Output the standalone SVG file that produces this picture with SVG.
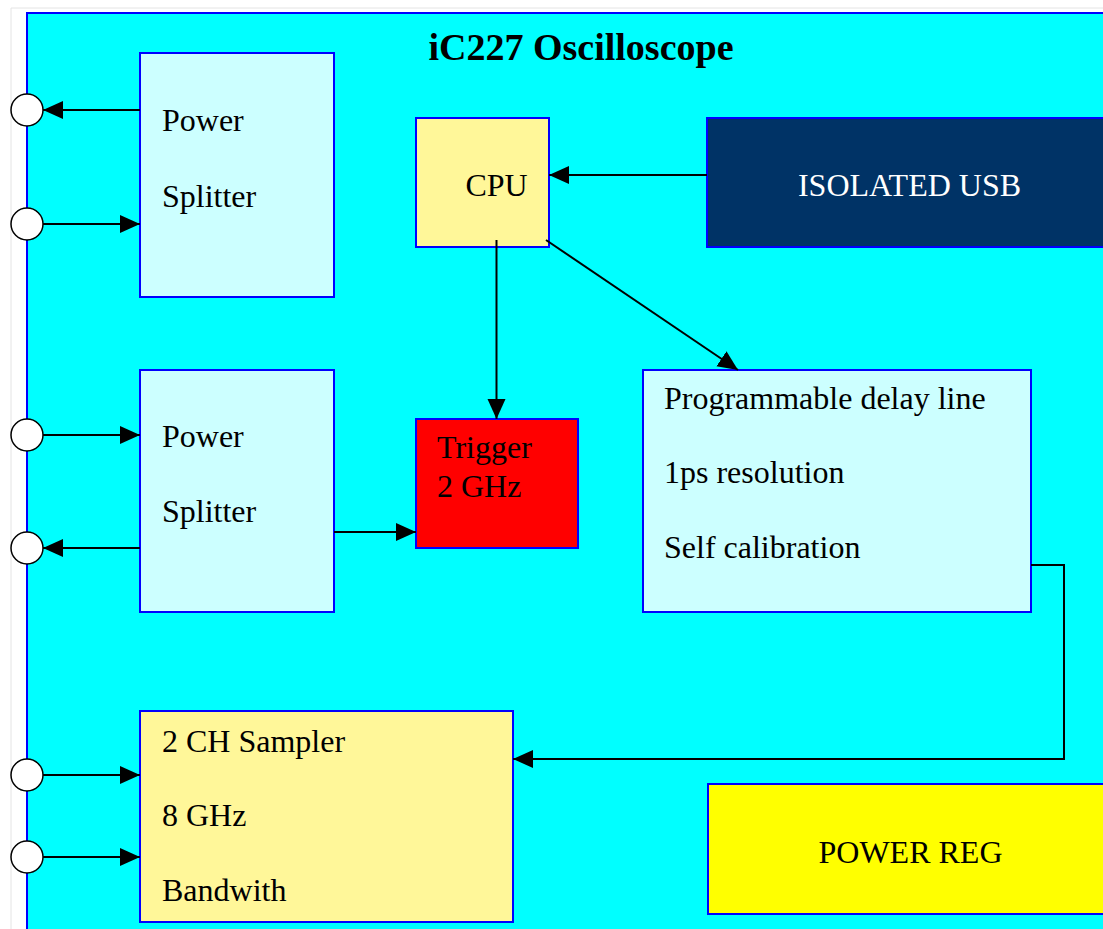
<svg xmlns="http://www.w3.org/2000/svg" width="1103" height="929" viewBox="0 0 1103 929">
<style>
.box{stroke:#0000ff;stroke-width:2}
.t{font-family:"Liberation Serif","Times New Roman",serif;font-size:32px;fill:#000}
.c{text-anchor:middle}
.ln{stroke:#000;stroke-width:2;fill:none}
.port{fill:#fff;stroke:#000;stroke-width:1.5}
</style>
<defs>
<marker id="ah" markerUnits="userSpaceOnUse" markerWidth="22" markerHeight="20" refX="20" refY="9" orient="auto">
<path d="M0,0 L20,9 L0,18 z" fill="#000"/>
</marker>
</defs>
<rect x="0" y="0" width="1103" height="929" fill="#fff"/>
<line x1="11" y1="8" x2="11" y2="929" stroke="#e4e4e4" stroke-width="1"/>
<line x1="11" y1="8" x2="1103" y2="8" stroke="#e4e4e4" stroke-width="1"/>
<g id="frame">
<rect x="27" y="13" width="1090" height="930" fill="#00ffff" class="box"/>
<text x="581" y="60" class="t c" style="font-weight:bold;font-size:38px" textLength="305" lengthAdjust="spacingAndGlyphs">iC227 Oscilloscope</text>
</g>
<g id="splitter1">
<rect x="140" y="53" width="194" height="244" fill="#ccffff" class="box"/>
<text x="162" y="131" class="t">Power</text>
<text x="162" y="207" class="t">Splitter</text>
</g>
<g id="splitter2">
<rect x="140" y="370" width="194" height="242" fill="#ccffff" class="box"/>
<text x="162" y="447" class="t">Power</text>
<text x="162" y="522" class="t">Splitter</text>
</g>
<g id="cpu">
<rect x="416" y="118" width="133" height="129" fill="#fff799" class="box"/>
<text x="496.5" y="196" class="t c">CPU</text>
</g>
<g id="usb">
<rect x="707" y="118" width="410" height="129" fill="#003366" class="box"/>
<text x="909.5" y="196" class="t c" style="fill:#fff">ISOLATED USB</text>
</g>
<g id="trigger">
<rect x="416" y="419" width="162" height="129" fill="#ff0000" class="box"/>
<text x="437" y="458" class="t">Trigger</text>
<text x="437" y="497" class="t">2 GHz</text>
</g>
<g id="delay">
<rect x="643" y="370" width="388" height="242" fill="#ccffff" class="box"/>
<text x="664" y="409" class="t">Programmable delay line</text>
<text x="664" y="483" class="t">1ps resolution</text>
<text x="664" y="558" class="t">Self calibration</text>
</g>
<g id="sampler">
<rect x="140" y="711" width="373" height="211" fill="#fff799" class="box"/>
<text x="162" y="752" class="t">2 CH Sampler</text>
<text x="162" y="826" class="t">8 GHz</text>
<text x="162" y="901" class="t">Bandwith</text>
</g>
<g id="powerreg">
<rect x="708" y="784" width="410" height="130" fill="#ffff00" class="box"/>
<text x="910.5" y="863" class="t c">POWER REG</text>
</g>
<g id="connectors">
<line x1="140" y1="110" x2="43" y2="110" class="ln" marker-end="url(#ah)"/>
<line x1="43" y1="224" x2="140" y2="224" class="ln" marker-end="url(#ah)"/>
<line x1="43" y1="435" x2="140" y2="435" class="ln" marker-end="url(#ah)"/>
<line x1="140" y1="548" x2="43" y2="548" class="ln" marker-end="url(#ah)"/>
<line x1="334" y1="532" x2="416" y2="532" class="ln" marker-end="url(#ah)"/>
<line x1="707" y1="175" x2="549" y2="175" class="ln" marker-end="url(#ah)"/>
<line x1="496.5" y1="240" x2="496.5" y2="419" class="ln" marker-end="url(#ah)"/>
<line x1="546" y1="240" x2="738" y2="370" class="ln" marker-end="url(#ah)"/>
<polyline points="1031,565 1064,565 1064,759 513,759" class="ln" marker-end="url(#ah)"/>
<line x1="43" y1="775" x2="140" y2="775" class="ln" marker-end="url(#ah)"/>
<line x1="43" y1="857" x2="140" y2="857" class="ln" marker-end="url(#ah)"/>
</g>
<g id="ports">
<circle cx="27" cy="110" r="16" class="port"/>
<circle cx="27" cy="224" r="16" class="port"/>
<circle cx="27" cy="435" r="16" class="port"/>
<circle cx="27" cy="548" r="16" class="port"/>
<circle cx="27" cy="775" r="16" class="port"/>
<circle cx="27" cy="857" r="16" class="port"/>
</g>
</svg>
